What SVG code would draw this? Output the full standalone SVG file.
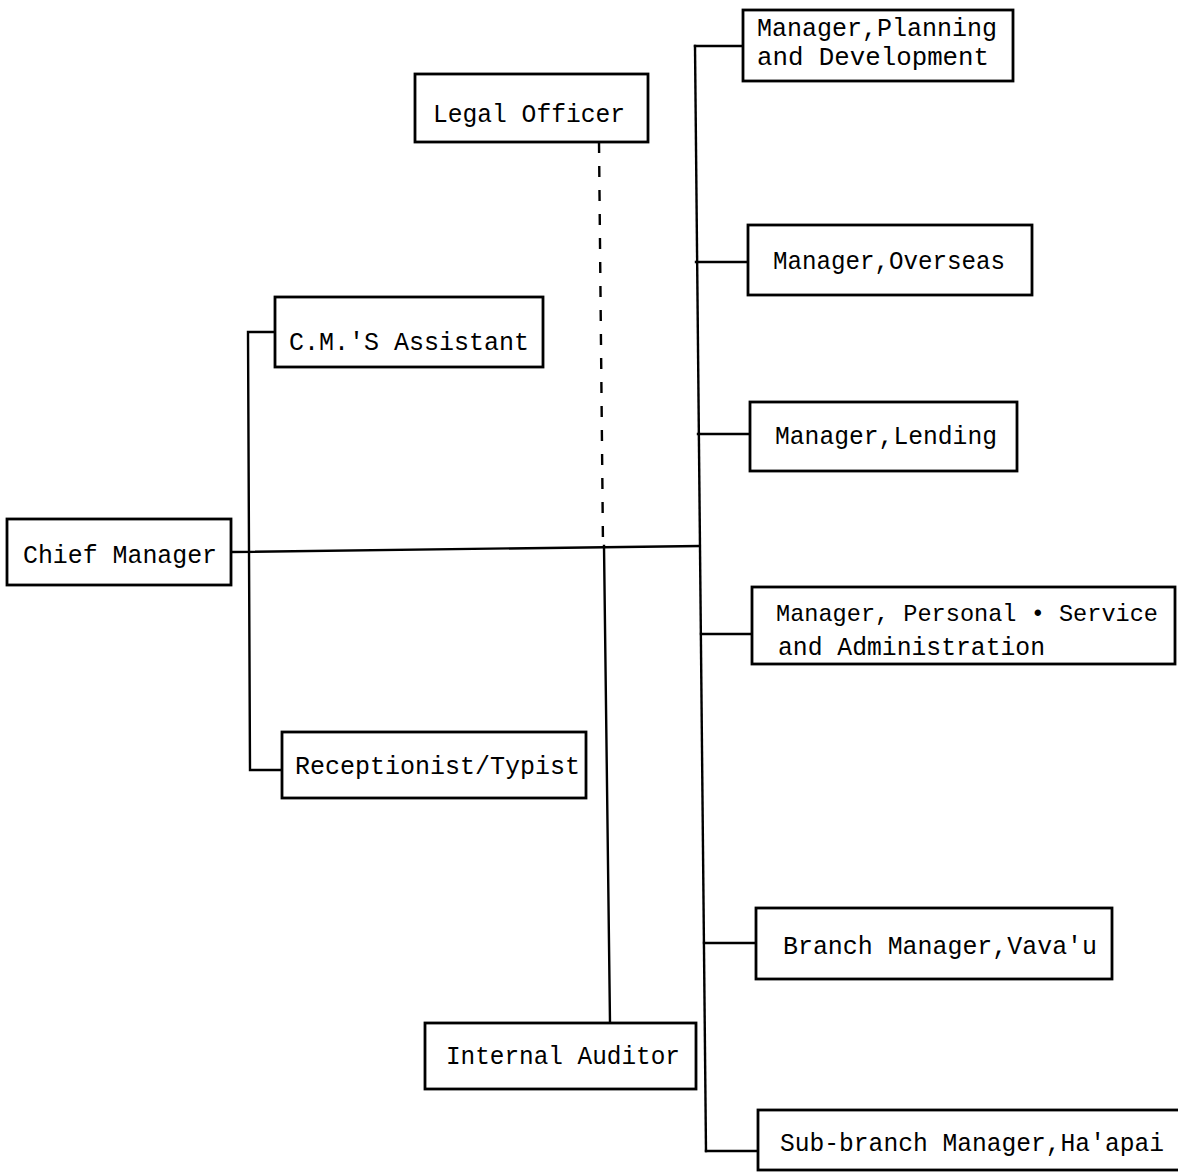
<svg xmlns="http://www.w3.org/2000/svg" width="1178" height="1175" viewBox="0 0 1178 1175">
<style>
.box{fill:#fff;stroke:#000;stroke-width:2.8}
.ln{fill:none;stroke:#000;stroke-width:2.4;stroke-linecap:square}
.dash{fill:none;stroke:#000;stroke-width:2.4;stroke-dasharray:11 13}
text{font-family:"Liberation Mono","DejaVu Sans Mono",monospace;font-size:25px;fill:#000}
text.sm{font-size:24px}
</style>
<rect width="1178" height="1175" fill="#fff"/>
<g id="connectors">
<polyline class="ln" points="231,552 699,546"/>
<polyline class="ln" points="275,332 248,332 250,770 282,770"/>
<line class="ln" x1="695" y1="46" x2="706" y2="1151"/>
<line class="ln" x1="695" y1="46" x2="743" y2="46"/>
<line class="ln" x1="696" y1="262" x2="748" y2="262"/>
<line class="ln" x1="698" y1="434" x2="750" y2="434"/>
<line class="ln" x1="701" y1="634" x2="752" y2="634"/>
<line class="ln" x1="704" y1="943" x2="756" y2="943"/>
<line class="ln" x1="706" y1="1151" x2="758" y2="1151"/>
<line class="dash" x1="599" y1="142" x2="603" y2="546"/>
<line class="ln" x1="604" y1="546" x2="610" y2="1023"/>
</g>
<g id="chief-manager"><rect class="box" x="7" y="519" width="224" height="66"/><text x="23" y="563" textLength="194" lengthAdjust="spacingAndGlyphs">Chief Manager</text></g>
<g id="legal-officer"><rect class="box" x="415" y="74" width="233" height="68"/><text x="433" y="122" textLength="192" lengthAdjust="spacingAndGlyphs">Legal Officer</text></g>
<g id="cm-assistant"><rect class="box" x="275" y="297" width="268" height="70"/><text x="289" y="350" textLength="240" lengthAdjust="spacingAndGlyphs">C.M.'S Assistant</text></g>
<g id="receptionist"><rect class="box" x="282" y="732" width="304" height="66"/><text x="295" y="774" textLength="285" lengthAdjust="spacingAndGlyphs">Receptionist/Typist</text></g>
<g id="internal-auditor"><rect class="box" x="425" y="1023" width="271" height="66"/><text x="446" y="1064" textLength="234" lengthAdjust="spacingAndGlyphs">Internal Auditor</text></g>
<g id="mgr-planning"><rect class="box" x="743" y="10" width="270" height="71"/><text x="757" y="36" textLength="240" lengthAdjust="spacingAndGlyphs">Manager,Planning</text><text x="757" y="65" textLength="232" lengthAdjust="spacingAndGlyphs">and Development</text></g>
<g id="mgr-overseas"><rect class="box" x="748" y="225" width="284" height="70"/><text x="773" y="269" textLength="232" lengthAdjust="spacingAndGlyphs">Manager,Overseas</text></g>
<g id="mgr-lending"><rect class="box" x="750" y="402" width="267" height="69"/><text x="775" y="444" textLength="222" lengthAdjust="spacingAndGlyphs">Manager,Lending</text></g>
<g id="mgr-personal"><rect class="box" x="752" y="587" width="423" height="77"/><text class="sm" x="776" y="621" textLength="382" lengthAdjust="spacingAndGlyphs">Manager, Personal • Service</text><text x="778" y="655" textLength="267" lengthAdjust="spacingAndGlyphs">and Administration</text></g>
<g id="branch-vavau"><rect class="box" x="756" y="908" width="356" height="71"/><text x="783" y="954" textLength="314" lengthAdjust="spacingAndGlyphs">Branch Manager,Vava'u</text></g>
<g id="subbranch-haapai"><rect class="box" x="758" y="1110" width="430" height="60"/><text x="780" y="1151" textLength="384" lengthAdjust="spacingAndGlyphs">Sub-branch Manager,Ha'apai</text></g>
</svg>
